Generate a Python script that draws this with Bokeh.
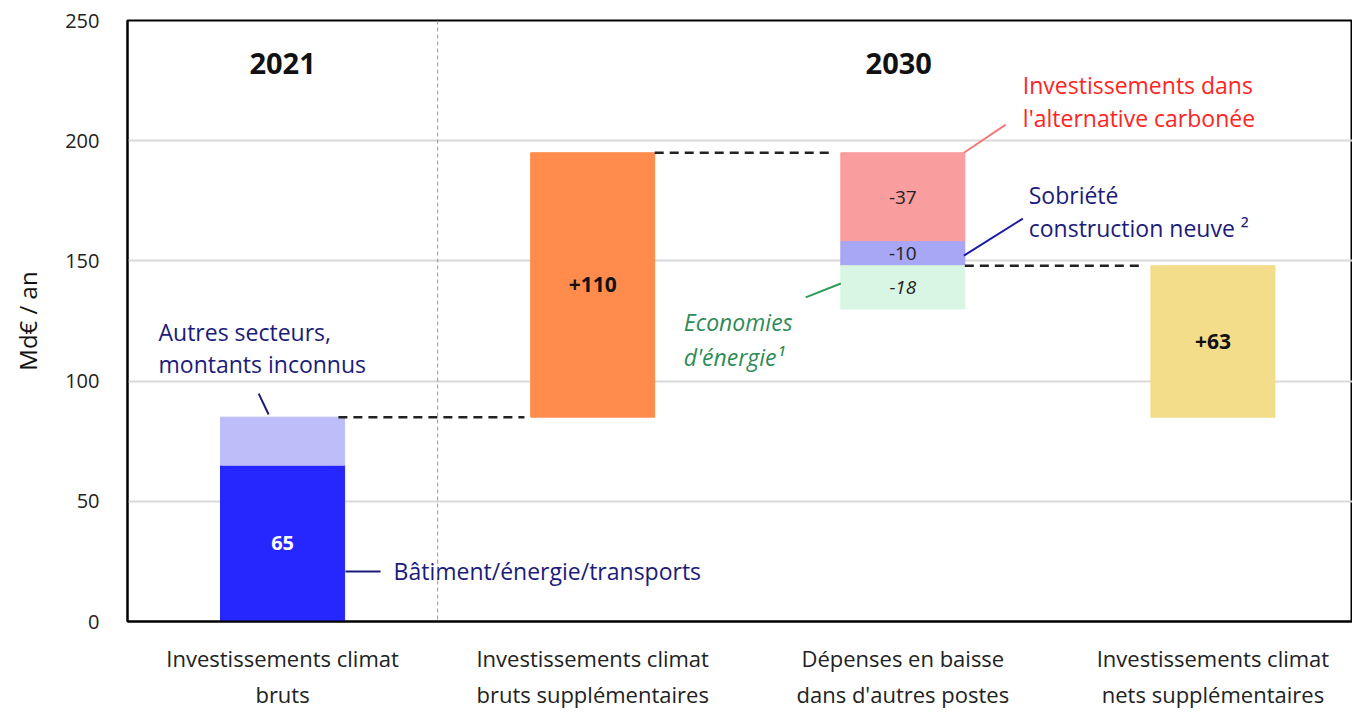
from bokeh.plotting import figure
from bokeh.models import FixedTicker, Range1d, Span
from bokeh.core.properties import value
from bokeh.embed import file_html
from bokeh.resources import INLINE

# ---- data ----
categories = ["Investissements climat\nbruts",
              "Investissements climat\nbruts supplémentaires",
              "Dépenses en baisse\ndans d'autres postes",
              "Investissements climat\nnets supplémentaires"]
batiment_energie_transports = 65
autres_secteurs = 20
bruts_supplementaires = 110
alternative_carbonee = -37
sobriete_construction = -10
economies_energie = -18
nets_supplementaires = 63
y_ticks = [0, 50, 100, 150, 200, 250]

FONT = "Open Sans"
navy = "#1b1b7a"
W = 0.4

p = figure(width=1352, height=712, output_backend="svg", toolbar_location=None,
           x_range=Range1d(0, 3.95), y_range=Range1d(0, 250),
           min_border_left=127, min_border_right=0, min_border_top=20, min_border_bottom=91)
p.outline_line_color = "black"
p.outline_line_width = 2
p.background_fill_color = "white"
p.border_fill_color = "white"

# axes
p.xaxis.ticker = FixedTicker(ticks=[0.5, 1.5, 2.5, 3.5])
p.xaxis.major_label_overrides = {0.5: categories[0], 1.5: categories[1], 2.5: categories[2], 3.5: categories[3]}
p.xaxis.major_label_text_font = FONT
p.xaxis.major_label_text_font_size = "22px"
p.xaxis.major_label_text_color = "#222222"
p.xaxis.major_label_standoff = 15
p.xaxis.axis_line_color = "black"
p.xaxis.axis_line_width = 2
p.xaxis.major_tick_line_color = None
p.xaxis.minor_tick_line_color = None
p.xgrid.grid_line_color = None

p.yaxis.ticker = FixedTicker(ticks=y_ticks)
p.yaxis.major_label_text_font = FONT
p.yaxis.major_label_text_font_size = "20px"
p.yaxis.major_label_text_color = "#222222"
p.yaxis.major_label_standoff = 22
p.yaxis.axis_line_color = "black"
p.yaxis.axis_line_width = 2
p.yaxis.major_tick_line_color = None
p.yaxis.minor_tick_line_color = None
p.yaxis.axis_label = "Md€ / an"
p.yaxis.axis_label_text_font = FONT
p.yaxis.axis_label_text_font_size = "24px"
p.yaxis.axis_label_text_font_style = "normal"
p.yaxis.axis_label_text_color = "#111111"
p.yaxis.axis_label_standoff = 18
p.ygrid.grid_line_color = "#d9d9d9"
p.ygrid.grid_line_width = 2

# divider 2021 / 2030
p.add_layout(Span(location=1.0, dimension="height", line_color="#9a9a9a",
                  line_dash="4 3", line_width=1))

# ---- bars ----
b1_top = batiment_energie_transports + autres_secteurs
b2_top = b1_top + bruts_supplementaires
b3_a = b2_top + alternative_carbonee
b3_b = b3_a + sobriete_construction
b3_c = b3_b + economies_energie
b4_top = b1_top + nets_supplementaires

p.vbar(x=[0.5], bottom=[0], top=[batiment_energie_transports], width=W, color="#2626ff")
p.vbar(x=[0.5], bottom=[batiment_energie_transports], top=[b1_top], width=W, color="#bdbdfa")
p.vbar(x=[1.5], bottom=[b1_top], top=[b2_top], width=W, color="#ff8c4d")
p.vbar(x=[2.5], bottom=[b3_a], top=[b2_top], width=W, color="#f99d9e")
p.vbar(x=[2.5], bottom=[b3_b], top=[b3_a], width=W, color="#a7a7f5")
p.vbar(x=[2.5], bottom=[b3_c], top=[b3_b], width=W, color="#d9f5e3")
p.vbar(x=[3.5], bottom=[b1_top], top=[b4_top], width=W, color="#f3dc8a")

# connectors
dash = dict(line_color="#222222", line_width=2.5, line_dash="9 6")
p.line([0.5 + W / 2 - 0.02, 1.5 - W / 2 - 0.02], [b1_top, b1_top], **dash)
p.line([1.5 + W / 2, 2.5 - W / 2 - 0.02], [b2_top, b2_top], **dash)
p.line([2.5 + W / 2, 3.5 - W / 2 - 0.02], [b3_b, b3_b], **dash)

# bar value labels
def txt(x, y, s, color="#111111", size="20px", style="normal", align="center"):
    p.text(x=[x], y=[y], text=[s], text_font=value(FONT), text_font_size=size,
           text_color=color, text_font_style=style, text_align=align,
           text_baseline="middle")

txt(0.5, batiment_energie_transports / 2, str(batiment_energie_transports), "white", "20px", "bold")
txt(1.5, (b1_top + b2_top) / 2, "+%d" % bruts_supplementaires, "#111111", "21px", "bold")
txt(2.5, (b3_a + b2_top) / 2, str(alternative_carbonee), "#222222", "19px")
txt(2.5, (b3_b + b3_a) / 2, str(sobriete_construction), "#222222", "19px")
txt(2.5, (b3_c + b3_b) / 2, str(economies_energie), "#222222", "19px", "italic")
txt(3.5, (b1_top + b4_top) / 2, "+%d" % nets_supplementaires, "#111111", "21px", "bold")

# year headers
txt(0.5, 232, "2021", "#111111", "29px", "bold")
txt(2.487, 232, "2030", "#111111", "29px", "bold")

# annotations
A = "23px"
txt(0.1, 120.6, "Autres secteurs,", navy, A, align="left")
txt(0.1, 107.3, "montants inconnus", navy, A, align="left")
p.line([0.423, 0.455], [94.8, 86.1], line_color=navy, line_width=2)

txt(0.858, 20.8, "Bâtiment/énergie/transports", navy, A, align="left")
p.line([0.703, 0.816], [20.8, 20.8], line_color=navy, line_width=2)

txt(2.887, 223, "Investissements dans", "#ff2424", A, align="left")
txt(2.887, 209.6, "l'alternative carbonée", "#ff2424", A, align="left")
p.line([2.697, 2.832], [b2_top, 206.7], line_color="#f07b7b", line_width=2)

txt(2.906, 177.6, "Sobriété", navy, A, align="left")
txt(2.906, 163.5, "construction neuve ²", navy, A, align="left")
p.line([2.697, 2.887], [152.2, 167.6], line_color="#1a1aa8", line_width=2)

txt(1.794, 124.4, "Economies", "#2e8b57", A, "italic", "left")
txt(1.794, 110.2, "d'énergie¹", "#2e8b57", A, "italic", "left")
p.line([2.187, 2.3], [134.8, 140.6], line_color="#2e9b5a", line_width=2)

open("out.html", "w").write(file_html(p, INLINE))
